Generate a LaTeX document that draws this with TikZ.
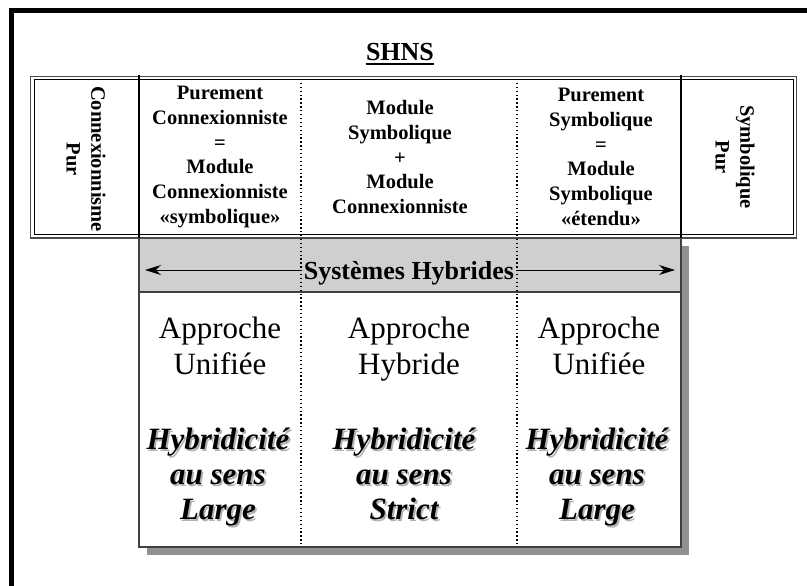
\documentclass[tikz,border=0pt]{standalone}
\usepackage{fontspec}
\setmainfont{Liberation Serif}
\usetikzlibrary{arrows.meta}
\newcommand{\shw}[1]{\leavevmode\rlap{\hspace{1.8pt}\raisebox{-1.8pt}{\color{black!30}#1}}#1}
\tikzset{
  toptext/.style={align=center,inner sep=0pt,font=\bfseries\fontsize{20.5}{24.8}\selectfont},
  lowtext/.style={align=center,inner sep=0pt,anchor=north,font=\fontsize{31}{36}\selectfont},
  hybtext/.style={align=center,inner sep=0pt,anchor=north,font=\fontsize{31}{35}\selectfont\bfseries\itshape},
  sep/.style={line width=1.3pt,dash pattern=on 1.3pt off 2.6pt},
  arr/.style={line width=1pt,-{Stealth[length=16pt,width=10pt]}}
}
\begin{document}
\begin{tikzpicture}[x=1pt,y=-1pt]
\useasboundingbox (0,0) rectangle (807,586);
% outer frame (partial)
\draw[line width=5pt] (11.5,586) -- (11.5,10.5) -- (807,10.5);
% title
\node[inner sep=0pt,font=\bfseries\fontsize{26}{30}\selectfont,anchor=base] (shns) at (400,61) {SHNS};
\draw[line width=1.4pt] ([yshift=-3pt]shns.base west) -- ([yshift=-3pt]shns.base east);
% box shadow and box
\fill[black!43] (147,246) rectangle (689,555);
\fill[white] (139,238) rectangle (681,547);
\fill[black!19] (139,238) rectangle (681,292);
\draw[line width=2pt,black!75] (139,292) -- (681,292);
% dotted separators
\draw[sep] (301,79) -- (301,547);
\draw[sep] (517,79) -- (517,547);
% box border
\draw[line width=2pt,black!75] (139,238) rectangle (681,547);
% top table
\draw[line width=1.6pt,black!70] (30.5,76.5) rectangle (796.5,238);
\draw[line width=1pt] (34,80) rectangle (793,234.5);
\draw[line width=1.2pt] (139,75) -- (139,238);
\draw[line width=1.2pt] (681,75) -- (681,238);
% top table texts
\node[toptext,rotate=-90] (cp) at (86,159) {Connexionnisme\\Pur};
\node[toptext] (c1) at (220,157) {Purement\\Connexionniste\\=\\Module\\Connexionniste\\«symbolique»};
\node[toptext] (c2) at (400,157) {Module\\Symbolique\\+\\Module\\Connexionniste};
\node[toptext] (c3) at (601,157) {Purement\\Symbolique\\=\\Module\\Symbolique\\«étendu»};
\node[toptext,rotate=-90] (sp) at (735,157) {Symbolique\\Pur};
% Systemes Hybrides
\coordinate (aL) at (145,270);
\coordinate (aR) at (675,270);
\node[inner sep=3pt,font=\bfseries\fontsize{26}{30}\selectfont,anchor=base] (sh) at (409,279) {Systèmes Hybrides};
\draw[arr] (sh.west |- aL) -- (aL);
\draw[arr] (sh.east |- aR) -- (aR);
% lower texts
\node[lowtext] (a1) at (220,317) {Approche\\Unifiée};
\node[lowtext] (a2) at (409,317) {Approche\\Hybride};
\node[lowtext] (a3) at (599,317) {Approche\\Unifiée};
\node[hybtext] (h1) at (218,428) {\shw{Hybridicité}\\\shw{au sens}\\\shw{Large}};
\node[hybtext] (h2) at (404,428) {\shw{Hybridicité}\\\shw{au sens}\\\shw{Strict}};
\node[hybtext] (h3) at (597,428) {\shw{Hybridicité}\\\shw{au sens}\\\shw{Large}};
\end{tikzpicture}
\end{document}
